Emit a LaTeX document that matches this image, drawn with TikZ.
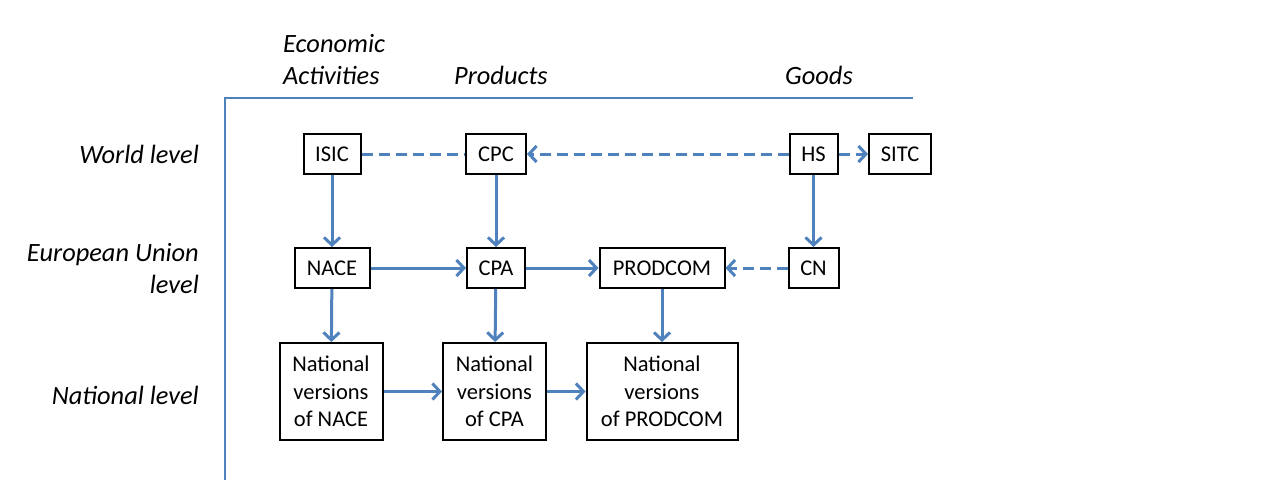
\documentclass[tikz,border=0pt]{standalone}
\usepackage{fontspec}
\setmainfont{Carlito}
\usetikzlibrary{arrows.meta}
\definecolor{blue1}{RGB}{79,129,189}
\tikzset{
  box/.style={draw=black, line width=2pt, inner sep=0pt, align=center,
    font=\fontsize{22.5}{27.5}\selectfont},
  lab/.style={inner sep=0pt, font=\fontsize{26.4}{31.5}\selectfont\itshape},
  conn/.style={draw=blue1, line width=3pt, -{Straight Barb[length=7.5pt,width=16pt]}},
  dconn/.style={conn, dash pattern=on 11pt off 6pt},
  dline/.style={draw=blue1, line width=3pt, dash pattern=on 11pt off 6pt},
  axis/.style={draw=blue1, line width=2pt},
}
\begin{document}
\begin{tikzpicture}[x=1pt,y=-1pt]
\useasboundingbox (0,0) rectangle (1271,480);
% axes
\draw[axis] (225,480) -- (225,98) -- (913,98);
% column labels
\node[lab, anchor=base west, align=left] (ea) at (283,84) {Economic\\Activities};
\node[lab, anchor=base west] (prod) at (454,84) {Products};
\node[lab, anchor=base west] (goods) at (785,84) {Goods};
% row labels
\node[lab, anchor=base east] (world) at (199,163) {World level};
\node[lab, anchor=base east, align=right] (eu) at (199,293) {European Union\\level};
\node[lab, anchor=base east] (nat) at (199,404) {National level};
% world level
\node[box, minimum width=57pt, minimum height=40pt] (isic) at (332,154) {ISIC};
\node[box, minimum width=60pt, minimum height=40pt] (cpc) at (496,154) {CPC};
\node[box, minimum width=48pt, minimum height=40pt] (hs) at (813.5,154) {HS};
\node[box, minimum width=62pt, minimum height=40pt] (sitc) at (900,154) {SITC};
% EU level
\node[box, minimum width=75pt, minimum height=40pt] (nace) at (332,268) {NACE};
\node[box, minimum width=58pt, minimum height=40pt] (cpa) at (496,268) {CPA};
\node[box, minimum width=125pt, minimum height=40pt] (prodcom) at (662,268) {PRODCOM};
\node[box, minimum width=50pt, minimum height=40pt] (cn) at (813.5,268) {CN};
% national level
\node[box, minimum width=103pt, minimum height=97pt] (nnace) at (331,391.5) {National\\versions\\of NACE};
\node[box, minimum width=103pt, minimum height=97pt] (ncpa) at (494.5,391.5) {National\\versions\\of CPA};
\node[box, minimum width=151pt, minimum height=97pt] (nprod) at (662,391.5) {National\\versions\\of PRODCOM};
% connectors
\draw[dline] (isic) -- (cpc);
\draw[dconn] (hs) -- (cpc);
\draw[dconn] (hs) -- (sitc);
\draw[conn] (isic) -- (nace);
\draw[conn] (cpc) -- (cpa);
\draw[conn] (hs) -- (cn);
\draw[conn] (nace) -- (cpa);
\draw[conn] (cpa) -- (prodcom);
\draw[dconn] (cn) -- (prodcom);
\draw[conn] (nace) -- (nnace);
\draw[conn] (cpa) -- (ncpa);
\draw[conn] (prodcom) -- (nprod);
\draw[conn] (nnace) -- (ncpa);
\draw[conn] (ncpa) -- (nprod);
\end{tikzpicture}
\end{document}
